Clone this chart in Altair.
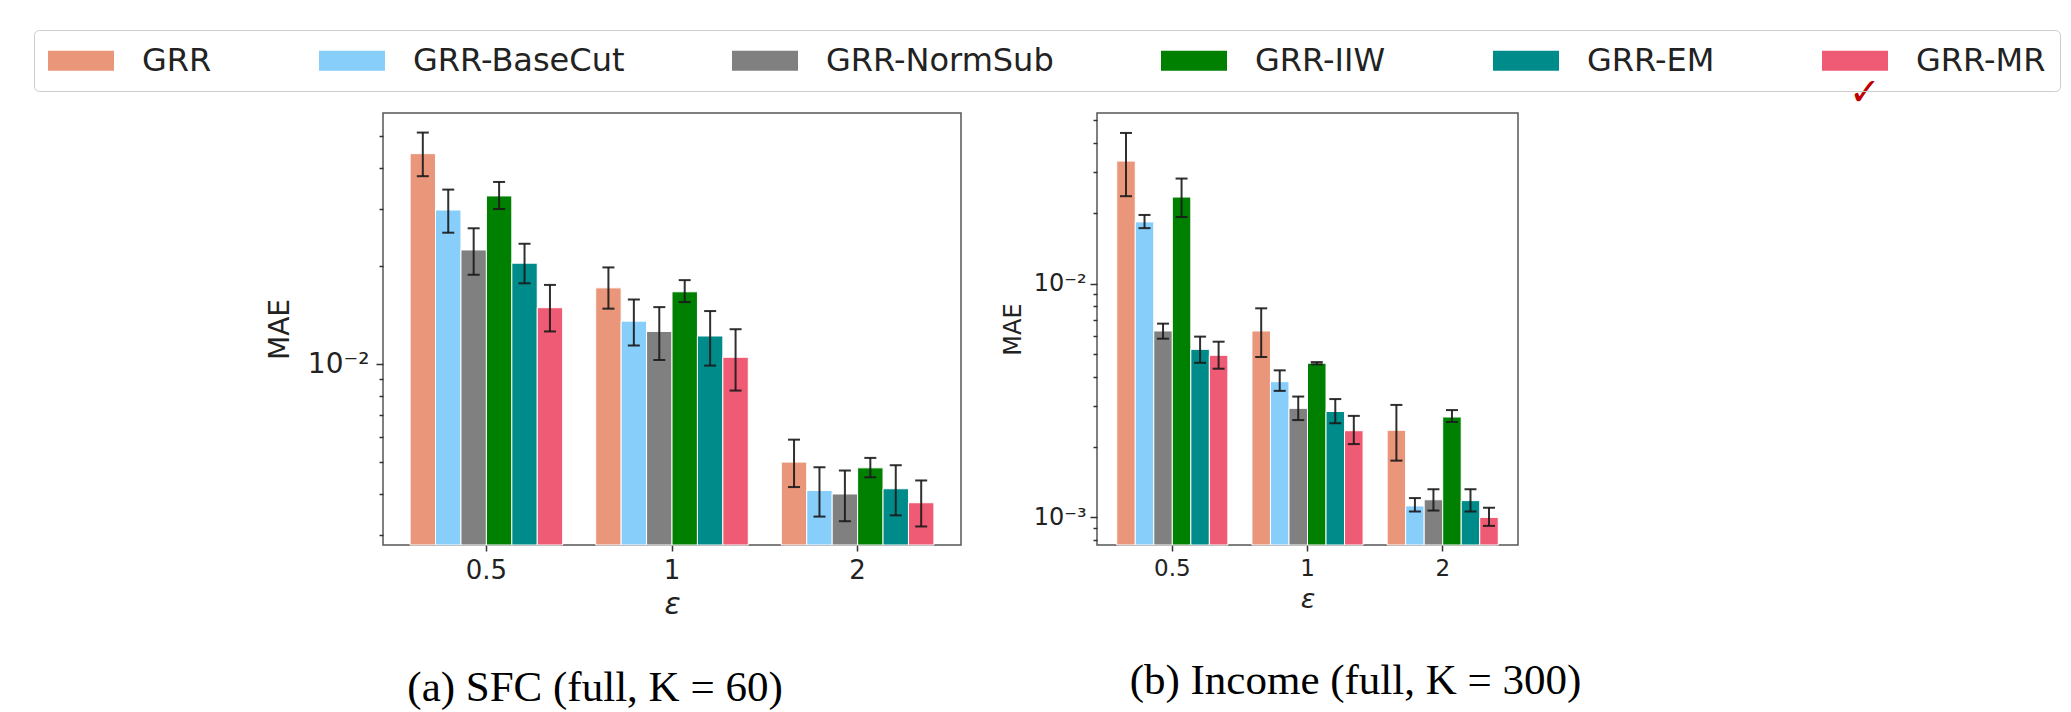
import altair as alt
import pandas as pd

methods = ["GRR", "GRR-BaseCut", "GRR-NormSub", "GRR-IIW", "GRR-EM", "GRR-MR"]
colors = ["#E9967A", "#87CEFA", "#808080", "#008000", "#008B8B", "#EF5B74"]
eps_labels = ["0.5", "1", "2"]

# (a) SFC (full, K = 60): MAE per method, one list per epsilon
sfc_mean_05 = [0.0442, 0.0297, 0.0224, 0.0328, 0.0204, 0.0149]
sfc_low_05 = [0.0377, 0.0253, 0.0188, 0.0299, 0.0177, 0.0126]
sfc_high_05 = [0.0513, 0.0343, 0.0261, 0.0362, 0.0234, 0.0175]
sfc_mean_1 = [0.01714, 0.01355, 0.0126, 0.01667, 0.0122, 0.0105]
sfc_low_1 = [0.0148, 0.0114, 0.0103, 0.0155, 0.0099, 0.0083]
sfc_high_1 = [0.0198, 0.0158, 0.01496, 0.0181, 0.01455, 0.0128]
sfc_mean_2 = [0.00501, 0.0041, 0.0040, 0.00481, 0.00415, 0.00376]
sfc_low_2 = [0.0042, 0.00341, 0.0033, 0.0045, 0.00344, 0.00318]
sfc_high_2 = [0.00587, 0.00483, 0.00472, 0.00516, 0.0049, 0.0044]

# (b) Income (full, K = 300)
inc_mean_05 = [0.0335, 0.0184, 0.00628, 0.0235, 0.00524, 0.00494]
inc_low_05 = [0.0237, 0.0173, 0.00582, 0.0193, 0.00459, 0.00433]
inc_high_05 = [0.0442, 0.0197, 0.00675, 0.0282, 0.00594, 0.00565]
inc_mean_1 = [0.00628, 0.00381, 0.00293, 0.00457, 0.00284, 0.00235]
inc_low_1 = [0.00486, 0.00348, 0.00261, 0.00452, 0.00253, 0.00206]
inc_high_1 = [0.00785, 0.00426, 0.00329, 0.00462, 0.00321, 0.00272]
inc_mean_2 = [0.00236, 0.00112, 0.00119, 0.00269, 0.00118, 0.00100]
inc_low_2 = [0.00175, 0.00106, 0.00107, 0.00256, 0.00106, 0.00092]
inc_high_2 = [0.00303, 0.00121, 0.00132, 0.00288, 0.00132, 0.0011]

sfc_domain = [0.00279, 0.0589]
inc_domain = [0.000762, 0.0538]
sfc_ticks = [0.003, 0.004, 0.005, 0.006, 0.007, 0.008, 0.009, 0.01, 0.02, 0.03, 0.04, 0.05]
inc_ticks = [0.0008, 0.0009, 0.001, 0.002, 0.003, 0.004, 0.005, 0.006, 0.007, 0.008, 0.009,
             0.01, 0.02, 0.03, 0.04, 0.05]


def build_df(means, lows, highs):
    rows = []
    for e, m, l, h in zip(eps_labels, means, lows, highs):
        for k, meth in enumerate(methods):
            rows.append({"eps": e, "method": meth, "mae": m[k], "lo": l[k], "hi": h[k]})
    return pd.DataFrame(rows)


sfc_df = build_df([sfc_mean_05, sfc_mean_1, sfc_mean_2],
                  [sfc_low_05, sfc_low_1, sfc_low_2],
                  [sfc_high_05, sfc_high_1, sfc_high_2])
inc_df = build_df([inc_mean_05, inc_mean_1, inc_mean_2],
                  [inc_low_05, inc_low_1, inc_low_2],
                  [inc_high_05, inc_high_1, inc_high_2])

label_expr = ("datum.value == 0.01 ? '10\u207b\u00b2' : "
              "(datum.value == 0.001 ? '10\u207b\u00b3' : '')")
major_test = "datum.value == 0.01 || datum.value == 0.001"

legend = alt.Legend(
    title=None, orient="none", legendX=-349, legendY=-83,
    direction="horizontal", columns=6, gridAlign="each", columnPadding=107,
    symbolType="M-1,-0.6H3V0.6H-1Z", symbolSize=1089, symbolStrokeWidth=0,
    symbolOpacity=1, labelOffset=61, labelFont="DejaVu Sans", labelFontSize=32,
    labelColor="#222222", labelLimit=500, padding=14, strokeColor="#cccccc",
    cornerRadius=5,
)


def panel(df, domain, ticks, width, caption, cap_dx, fonts, extra=None):
    xlab, ylab, ytitle, xtitle, ypad, ytpad = fonts
    xenc = alt.X("eps:N", sort=eps_labels, title="\u03b5",
                 scale=alt.Scale(paddingInner=0.178, paddingOuter=0.146),
                 axis=alt.Axis(labelAngle=0, labelFontSize=xlab, titleFontSize=xtitle))
    xoff = alt.XOffset("method:N", sort=methods,
                       scale=alt.Scale(paddingInner=0, paddingOuter=0))
    yscale = alt.Scale(type="log", domain=domain, nice=False)
    yaxis = alt.Axis(values=ticks, labelExpr=label_expr, labelOverlap=False,
                     labelFontSize=ylab, titleFontSize=ytitle,
                     labelPadding=ypad, titlePadding=ytpad,
                     tickSize={"condition": {"test": major_test, "value": 7}, "value": 4})
    bars = alt.Chart(df).mark_bar(stroke="white", strokeWidth=1).encode(
        x=xenc, xOffset=xoff,
        y=alt.Y("mae:Q", scale=yscale, axis=yaxis, title="MAE"),
        y2=alt.datum(domain[0]),
        color=alt.Color("method:N", sort=methods,
                        scale=alt.Scale(domain=methods, range=colors), legend=legend),
    )
    err = alt.Chart(df).mark_rule(color="#1a1a1a", strokeWidth=2, opacity=0.9).encode(
        x=xenc, xOffset=xoff,
        y=alt.Y("lo:Q", scale=yscale, title="MAE"), y2="hi:Q",
    )
    cap_lo = alt.Chart(df).mark_tick(color="#1a1a1a", thickness=2, size=12, opacity=0.9).encode(
        x=xenc, xOffset=xoff, y=alt.Y("lo:Q", scale=yscale, title="MAE"),
    )
    cap_hi = alt.Chart(df).mark_tick(color="#1a1a1a", thickness=2, size=12, opacity=0.9).encode(
        x=xenc, xOffset=xoff, y=alt.Y("hi:Q", scale=yscale, title="MAE"),
    )
    layers = [bars, err, cap_lo, cap_hi]
    if extra is not None:
        layers.append(extra)
    return alt.layer(*layers).properties(
        width=width, height=432,
        title=alt.TitleParams(text=caption, orient="bottom", anchor="middle", frame="group",
                              font="Liberation Serif", fontSize=43, fontWeight="normal",
                              color="black", offset=48, dx=cap_dx),
    )


check = alt.Chart(pd.DataFrame({"mark": ["\u2713"]})).mark_text(
    fontSize=38, color="#c00000", font="DejaVu Sans"
).encode(text="mark:N", x=alt.value(768), y=alt.value(-19))

left = panel(sfc_df, sfc_domain, sfc_ticks, 578, "(a) SFC (full, K = 60)", -77,
             (26, 28, 28, 30, 7, 13))
right = panel(inc_df, inc_domain, inc_ticks, 421, "(b) Income (full, K = 300)", 48,
              (23, 24, 24, 27, 4, 8), extra=check)

chart = alt.hconcat(left, right, spacing=136, bounds="flush").resolve_scale(
    x="independent", xOffset="independent", y="independent"
).properties(
    padding={"left": 33, "top": 29, "right": 0, "bottom": 0}
).configure_view(
    stroke="#555555", strokeWidth=1.5
).configure_axis(
    grid=False, domain=False, labelFont="DejaVu Sans",
    labelColor="#222222", titleFont="DejaVu Sans", titleFontWeight="normal",
    titleColor="#222222", tickColor="#333333", tickWidth=1.5,
).configure_axisX(
    tickSize=6, labelPadding=6, titleFontStyle="italic", titlePadding=6,
)

chart.save("out.html", embed_options={"renderer": "svg", "actions": False})
